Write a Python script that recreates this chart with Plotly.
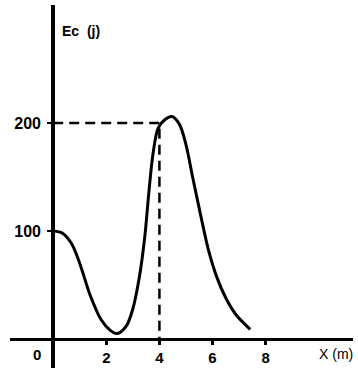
import plotly.graph_objects as go

# Kinetic energy Ec (J) against position X (m)
x_pos = [0, 0.35, 0.70, 1.00, 1.40, 1.80, 2.15, 2.40, 2.75, 3.00, 3.25, 3.45,
         3.60, 3.75, 3.95, 4.20, 4.47, 4.75, 5.00, 5.25, 5.55, 5.85, 6.15,
         6.50, 6.90, 7.42]
ec_vals = [100, 98, 88, 70, 40, 18, 8, 5, 12, 28, 58, 95,
           135, 170, 195, 203, 206, 199, 180, 150, 115, 82, 58,
           38, 22, 9]

# reading guide for the 200 J level at X = 4 m
guide_x = 4
guide_y = 200

x_ticks = [2, 4, 6, 8]
x_tick_text = ["2", "4", "6", "8"]
y_ticks = [100, 200]
y_tick_text = ["100", "200"]

x_range = [-1.627, 11.29]
y_range = [-26.85, 309.3]

fig = go.Figure()

fig.add_trace(go.Scatter(
    x=[0, guide_x, guide_x], y=[guide_y, guide_y, 0],
    mode="lines",
    line=dict(color="black", width=2.5, dash="10px,6px"),
    hoverinfo="skip",
))

fig.add_trace(go.Scatter(
    x=x_pos, y=ec_vals,
    mode="lines",
    line=dict(color="black", width=3, shape="spline", smoothing=0.9),
))

digit_font = dict(family="Liberation Sans, Arial, sans-serif", size=15,
                  color="black", weight="bold")

x_pos_frac = (0 - y_range[0]) / (y_range[1] - y_range[0])
y_pos_frac = (0 - x_range[0]) / (x_range[1] - x_range[0])

fig.update_layout(
    width=358, height=368,
    margin=dict(l=10, r=5, t=5, b=0),
    paper_bgcolor="white", plot_bgcolor="white",
    showlegend=False,
    xaxis=dict(
        range=x_range, anchor="free", position=x_pos_frac,
        showgrid=False, zeroline=False,
        showline=True, linecolor="black", linewidth=3,
        tickmode="array", tickvals=x_ticks, ticktext=x_tick_text,
        ticks="outside", ticklen=4, tickwidth=3, tickcolor="black",
        tickfont=digit_font, ticklabelstandoff=0,
    ),
    yaxis=dict(
        range=y_range, anchor="free", position=y_pos_frac,
        showgrid=False, zeroline=False,
        showline=True, linecolor="black", linewidth=4,
        tickmode="array", tickvals=y_ticks, ticktext=y_tick_text,
        ticks="outside", ticklen=4, tickwidth=2, tickcolor="black",
        tickfont=dict(digit_font, size=16), ticklabelstandoff=3,
    ),
    annotations=[
        dict(x=-0.61, y=-14, xref="x", yref="y", text="0", showarrow=False,
             font=digit_font),
        dict(x=1.05, y=285, xref="x", yref="y", text="Ec&nbsp;&nbsp;(j)",
             showarrow=False, font=dict(family="Liberation Sans, Arial, sans-serif",
                                        size=14, color="black", weight="bold")),
        dict(x=10.65, y=-14, xref="x", yref="y", text="X&nbsp;(m)",
             showarrow=False, font=dict(family="Liberation Sans, Arial, sans-serif",
                                        size=14, color="black")),
    ],
)

fig.write_html("out.html")
